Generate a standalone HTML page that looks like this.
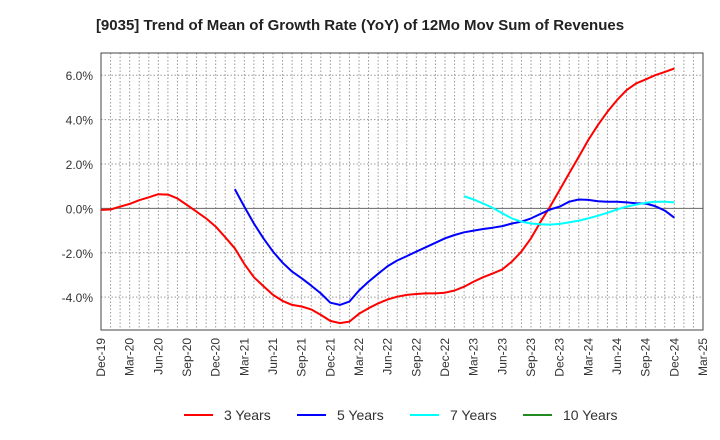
<!DOCTYPE html>
<html><head><meta charset="utf-8"><style>
body{margin:0;background:#fff;font-family:"Liberation Sans",sans-serif}
svg{display:block}
</style></head><body>
<svg id="c" width="720" height="440" xmlns="http://www.w3.org/2000/svg">
<text x="360" y="30" text-anchor="middle" font-size="15" font-weight="bold" fill="#222">[9035]  Trend of Mean of Growth Rate (YoY) of 12Mo Mov Sum of Revenues</text>
<g id="grid"></g><g id="axes"></g><g id="series"></g><g id="legend"></g>
</svg>
<script>
const xLabels=["Dec-19","Mar-20","Jun-20","Sep-20","Dec-20","Mar-21","Jun-21","Sep-21","Dec-21","Mar-22","Jun-22","Sep-22","Dec-22","Mar-23","Jun-23","Sep-23","Dec-23","Mar-24","Jun-24","Sep-24","Dec-24","Mar-25"];
const yTicks=[-4,-2,0,2,4,6];
const s3Start=0;
const s3=[-0.07,-0.05,0.08,0.2,0.37,0.5,0.64,0.62,0.45,0.15,-0.15,-0.45,-0.82,-1.3,-1.8,-2.5,-3.1,-3.5,-3.9,-4.17,-4.35,-4.42,-4.55,-4.8,-5.07,-5.17,-5.1,-4.75,-4.5,-4.28,-4.1,-3.98,-3.9,-3.86,-3.83,-3.83,-3.8,-3.7,-3.53,-3.3,-3.1,-2.93,-2.75,-2.4,-1.95,-1.35,-0.6,0.08,0.83,1.58,2.33,3.08,3.75,4.35,4.88,5.33,5.63,5.81,6.0,6.15,6.3];
const s5Start=14;
const s5=[0.87,0.08,-0.68,-1.35,-1.95,-2.45,-2.85,-3.15,-3.48,-3.83,-4.25,-4.35,-4.2,-3.7,-3.3,-2.95,-2.6,-2.35,-2.15,-1.95,-1.75,-1.55,-1.35,-1.2,-1.08,-1.0,-0.93,-0.87,-0.8,-0.68,-0.6,-0.45,-0.25,-0.05,0.08,0.3,0.4,0.38,0.32,0.3,0.3,0.27,0.23,0.22,0.1,-0.1,-0.42];
const s7Start=38;
const s7=[0.55,0.4,0.22,0.02,-0.22,-0.45,-0.6,-0.68,-0.72,-0.73,-0.7,-0.63,-0.55,-0.45,-0.33,-0.2,-0.05,0.08,0.17,0.25,0.3,0.3,0.27];
const s10Start=0;
const s10=[];
const L=101,R=703,T=53,B=330,yMin=-5.48,yMax=7.0,nMonths=63;
const X=m=>L+(R-L)*m/nMonths;
const Y=v=>B-(B-T)*(v-yMin)/(yMax-yMin);
const NS="http://www.w3.org/2000/svg";
function mk(p,t,a){const e=document.createElementNS(NS,t);for(const k in a)e.setAttribute(k,a[k]);p.appendChild(e);return e;}
const g=document.getElementById('grid'),ax=document.getElementById('axes'),se=document.getElementById('series'),lg=document.getElementById('legend');
for(let m=1;m<nMonths;m++){const l=mk(g,'line',{x1:X(m),x2:X(m),y1:T,y2:B,stroke:'#999','stroke-dasharray':'1.5,2','stroke-width':1});

}
yTicks.forEach(v=>{const l=mk(g,'line',{x1:L,x2:R,y1:Y(v),y2:Y(v),stroke:v===0?'#666':'#999','stroke-dasharray':v===0?'':'1.5,2','stroke-width':1});


const t=mk(ax,'text',{x:L-8,y:Y(v)+5,'text-anchor':'end','font-size':12,fill:'#333'});t.textContent=v.toFixed(1)+'%';

});
const fr=mk(ax,'rect',{x:L,y:T,width:R-L,height:B-T,fill:'none',stroke:'#444','stroke-width':1});


xLabels.forEach((lab,i)=>{const x=X(i*3);const t=mk(ax,'text',{x:0,y:0,'text-anchor':'end','font-size':12,fill:'#333',transform:`translate(${x+4},${B+8}) rotate(-90)`});t.textContent=lab;

});
function line(data,start,color,name){if(!data.length)return;const pts=data.map((v,i)=>X(start+i).toFixed(1)+','+Y(v).toFixed(1)).join(' ');
const p=mk(se,'polyline',{points:pts,fill:'none',stroke:color,'stroke-width':2,'stroke-linejoin':'round'});

}
line(s3,s3Start,'#f00','series-3-years');
line(s5,s5Start,'#00f','series-5-years');
line(s7,s7Start,'#0ff','series-7-years');
line(s10,s10Start,'#228b22','series-10-years');
const leg=[["3 Years","#f00",184],["5 Years","#00f",297],["7 Years","#0ff",410],["10 Years","#228b22",523]];
leg.forEach(([n,c,x])=>{const l=mk(lg,'line',{x1:x,x2:x+29,y1:415,y2:415,stroke:c,'stroke-width':2});


const t=mk(lg,'text',{x:x+40,y:420,'font-size':14,fill:'#333'});t.textContent=n;

});
</script>
</body></html>
